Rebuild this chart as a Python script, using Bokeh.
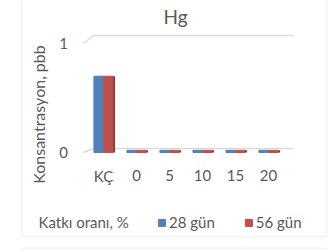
from math import pi

from bokeh.plotting import figure
from bokeh.models import (Range1d, Legend, LegendItem, Label, BoxAnnotation,
                          ColumnDataSource)
from bokeh.core.properties import value
from bokeh.transform import dodge
from bokeh.embed import file_html
from bokeh.resources import INLINE

# ---- data -------------------------------------------------------------
categories = ["KÇ", "0", "5", "10", "15", "20"]
series_names = ["28 gün", "56 gün"]
values_28 = [0.70, 0.02, 0.02, 0.02, 0.02, 0.02]
values_56 = [0.70, 0.02, 0.02, 0.02, 0.02, 0.02]
y_ticks = [0, 1]
y_tick_labels = ["0", "1"]
chart_title = "Hg"
y_title = "Konsantrasyon, pbb"
x_title = "Katkı oranı, %"

# ---- style / layout (pixels on the canvas) ------------------------------
W, H = 328, 250
FONT = "Lato"
TXT = "#595959"
BLUE = "#4F81BD"
RED = "#C0504D"
RED_SIDE = "#8C3A37"
GRID = "#D9D9D9"

CAT0_PX = 103         # canvas x of the first category centre
CAT_STEP = 33         # pixels between categories
FRONT_ZERO = 152      # canvas y (from top) of value 0 on the front plane
FRONT_UNIT = 109      # pixels per unit on the front plane
BACK_ZERO = 148       # canvas y of value 0 on the back wall
BACK_UNIT = 113
WALL_L, WALL_R, WALL_FRONT_L = 93, 293, 83   # canvas x of the wall edges

def xd(px):
    return (px - CAT0_PX) / CAT_STEP

x_range = Range1d(xd(0), xd(W))
y_range = Range1d(-(H - FRONT_ZERO) / FRONT_UNIT, FRONT_ZERO / FRONT_UNIT)
back_range = Range1d(-(H - BACK_ZERO) / BACK_UNIT, BACK_ZERO / BACK_UNIT)

xs = list(range(len(categories)))
src = ColumnDataSource(dict(x=xs, v28=values_28, v56=values_56))

p = figure(width=W, height=H, output_backend="svg", toolbar_location=None,
           x_range=x_range, y_range=y_range,
           x_axis_location=None, y_axis_location=None,
           min_border=0)
p.extra_y_ranges = {"back": back_range}
p.outline_line_color = None
p.grid.visible = False

# chart border (its top edge lies above the picture) and the next chart's top
p.add_layout(BoxAnnotation(left=21, right=326, bottom=14, top=400,
                           left_units="screen", right_units="screen",
                           bottom_units="screen", top_units="screen",
                           fill_color=None, line_color=GRID, line_width=2))
p.add_layout(BoxAnnotation(left=22, right=326, bottom=-100, top=2,
                           left_units="screen", right_units="screen",
                           bottom_units="screen", top_units="screen",
                           fill_color=None, line_color=GRID, line_width=2))

# back-wall gridlines and side-wall edges
p.segment(x0=xd(WALL_L), x1=xd(WALL_R), y0=y_ticks, y1=y_ticks,
          y_range_name="back", line_color=GRID, line_width=1.5)
front_in_back = [(BACK_ZERO - FRONT_ZERO + FRONT_UNIT * t) / BACK_UNIT
                 for t in y_ticks]
p.segment(x0=xd(WALL_FRONT_L), x1=xd(WALL_L), y0=front_in_back, y1=y_ticks,
          y_range_name="back", line_color=GRID, line_width=1.5)

# tick labels
p.text(x=xd(WALL_L), y=y_ticks, text=y_tick_labels, x_offset=-30,
       text_align="center", text_baseline="middle", text_font=value(FONT),
       text_font_size="15px", text_color=TXT)
p.text(x=xs, y=0, text=categories, y_offset=23,
       text_align="center", text_baseline="middle", text_font=value(FONT),
       text_font_size="15px", text_color=TXT)

# bars
bw = 0.29
r28 = p.vbar(x=dodge("x", -bw / 2, range=p.x_range), top="v28", bottom=0,
             width=bw, source=src, fill_color=BLUE, line_color=BLUE)
r56 = p.vbar(x=dodge("x", bw / 2, range=p.x_range), top="v56", bottom=0,
             width=bw, source=src, fill_color=RED, line_color=RED)
p.vbar(x=dodge("x", bw + 0.03, range=p.x_range), top="v56", bottom=0,
       width=0.06, source=src, fill_color=RED_SIDE, line_color=None)

# legend
legend = Legend(items=[LegendItem(label=series_names[0], renderers=[r28]),
                       LegendItem(label=series_names[1], renderers=[r56])],
                orientation="horizontal", location=(157, 19),
                glyph_width=9, glyph_height=9, label_standoff=3, spacing=29,
                padding=0, margin=0, border_line_color=None,
                background_fill_alpha=0, label_text_font=FONT,
                label_text_font_size="15px", label_text_color=TXT,
                label_height=18)
p.add_layout(legend)

# titles
p.add_layout(Label(x=175, y=234, x_units="screen", y_units="screen",
                   text=chart_title, text_align="center",
                   text_baseline="alphabetic", text_font=FONT,
                   text_font_size="19px", text_color=TXT))
p.add_layout(Label(x=37.5, y=136, x_units="screen", y_units="screen",
                   text=y_title, angle=pi / 2, text_align="center",
                   text_baseline="alphabetic", text_font=FONT,
                   text_font_size="16px", text_color=TXT))
p.add_layout(Label(x=38, y=29, x_units="screen", y_units="screen",
                   text=x_title, text_align="left",
                   text_baseline="alphabetic", text_font=FONT,
                   text_font_size="15px", text_color=TXT))

open("out.html", "w").write(file_html(p, INLINE))
